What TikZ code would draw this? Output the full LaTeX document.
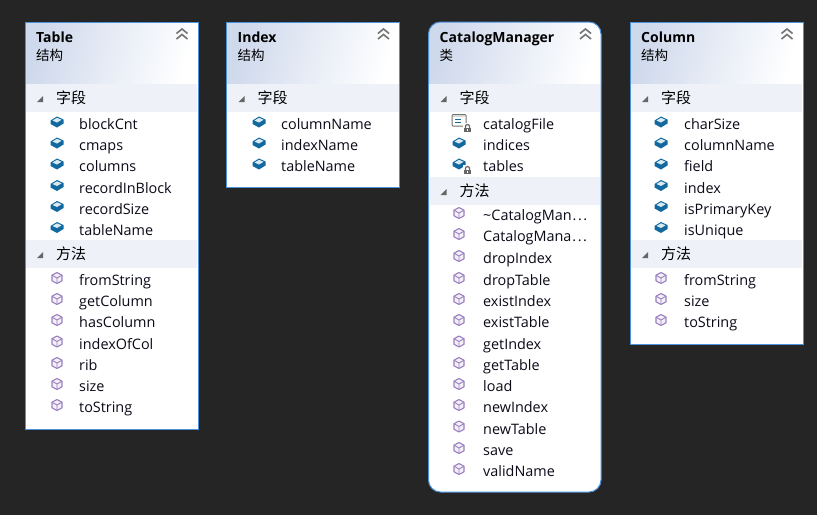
\documentclass[tikz,border=0pt]{standalone}
\usepackage{fontspec}
\setmainfont{Open Sans}
\newfontfamily\cjk{Noto Sans CJK SC}
\definecolor{pagecolor}{HTML}{252526}
\definecolor{framecolor}{HTML}{4A92DC}
\definecolor{barcolor}{HTML}{EEF1F8}
\definecolor{headcolor}{HTML}{CFD9EC}
\definecolor{fieldcolor}{HTML}{11699F}
\definecolor{methodcolor}{HTML}{9B7FC0}
\definecolor{textcolor}{HTML}{0A0A18}
\newcommand{\threedots}{\kern1pt.\kern1.5pt.\kern1.5pt.}
\tikzset{
  x=1pt,y=-1pt,
  titledecorate/.style={anchor=base west,inner sep=0pt,font=\fontsize{14}{16}\selectfont\bfseries,text=black},
  subdecorate/.style={anchor=base west,inner sep=0pt,font=\fontsize{13.5}{14}\cjk,text=black},
  bardecorate/.style={anchor=base west,inner sep=0pt,font=\fontsize{15}{16}\cjk,text=black},
  rowdecorate/.style={anchor=base west,inner sep=0pt,font=\fontsize{14.4}{16}\selectfont,text=textcolor},
  fieldicon/.pic={
    \fill[fieldcolor] (-6.5,-1.5) -- (0,-5.5) -- (6.5,-2.5) -- (6.5,1.5) -- (0,5.5) -- (-6.5,2) -- cycle;
    \fill[white!85!fieldcolor] (-4.5,-1.5) -- (0,-4.2) -- (4.5,-2.2) -- (0,0.5) -- cycle;
  },
  methodicon/.pic={
    \draw[methodcolor,line width=1.1pt,fill=methodcolor!12,line join=round] (-5,-2.8) -- (0,-5.5) -- (5,-2.8) -- (5,2.8) -- (0,5.5) -- (-5,2.8) -- cycle;
    \draw[methodcolor,line width=0.9pt] (-5,-2.8) -- (0,0) -- (5,-2.8) (0,0) -- (0,5.5);
  },
  lockicon/.pic={
    \fill[white] (-4.5,-5) rectangle (4.5,5);
    \draw[black!60,line width=1.2pt] (-2.1,0) -- (-2.1,-1.4) arc[start angle=180,end angle=360,radius=2.1] -- (2.1,0);
    \fill[black!60] (-3.6,0) rectangle (3.6,4);
    \fill[white] (-0.8,1.4) rectangle (0.8,2.6);
  },
  fileicon/.pic={
    \draw[black!55,line width=1pt,fill=white,rounded corners=1pt] (-7,-6.5) rectangle (7,5);
    \fill[black!15] (-6.3,-5.8) rectangle (6.3,-3.8);
    \draw[fieldcolor,line width=1pt] (-4,-1.5) -- (2,-1.5) (-4,1) -- (2,1);
  },
  chevronicon/.pic={
    \draw[black!55,line width=1.6pt] (-5.5,-1.5) -- (0,-6) -- (5.5,-1.5) (-5.5,4) -- (0,-0.5) -- (5.5,4);
  },
  expandicon/.pic={
    \fill[black!60] (3,-3) -- (3,3) -- (-3,3) -- cycle;
  }
}
\begin{document}
\begin{tikzpicture}
\useasboundingbox[fill=pagecolor] (0,0) rectangle (817,515);
%% boxes, headers and titles
\foreach \boxname/\xa/\xb/\yb/\rad/\titletext/\subtext in {table/25/198/429/0/Table/结构,
  index/226.5/399.5/187/0/Index/结构, catalog/428.5/601/492/12/CatalogManager/类,
  column/630/803/344/0/Column/结构} {
  \fill[white,rounded corners=\rad] (\xa,22) rectangle (\xb,\yb);
  \shade[left color=headcolor,right color=white,shading angle=75]
    (\xa,84) [rounded corners=\rad] -- (\xa,22) -- (\xb,22) [sharp corners] -- (\xb,84) -- cycle;
  \draw[framecolor,line width=1pt,rounded corners=\rad] (\xa,22) rectangle (\xb,\yb);
  \node (\boxname title) at (\xa+11,42) [titledecorate] {\titletext};
  \node (\boxname sub) at (\xa+11,60) [subdecorate] {\subtext};
  \pic at (\xa+157,35) {chevronicon};
}
%% section bars
\foreach \barname/\xa/\xb/\y/\bartext in {tablefield/25/198/98/字段, tablemethod/25/198/254/方法,
  indexfield/226.5/399.5/98/字段, catalogfield/428.5/601/98/字段, catalogmethod/428.5/601/191/方法,
  columnfield/630/803/98/字段, columnmethod/630/803/254/方法} {
  \fill[barcolor] (\xa+0.6,\y-14) rectangle (\xb-0.6,\y+14);
  \node (\barname) at (\xa+31,\y+5) [bardecorate] {\bartext};
  \pic at (\xa+15,\y+1) {expandicon};
}
%% members of Table
\foreach \rowname/\y in {blockCnt/124, cmaps/145, columns/166, recordInBlock/187.5, recordSize/208.5, tableName/229.5} {
  \pic at (57,\y-2) {fieldicon};
  \node (table\rowname) at (79,\y+5.5) [rowdecorate] {\rowname};
}
\foreach \rowname/\y in {fromString/280, getColumn/301, hasColumn/322, indexOfCol/343.5, rib/365, size/386, toString/407} {
  \pic at (57,\y-2) {methodicon};
  \node (table\rowname) at (79,\y+5.5) [rowdecorate] {\rowname};
}
%% members of Index
\foreach \rowname/\y in {columnName/124, indexName/145, tableName/166} {
  \pic at (259,\y-2) {fieldicon};
  \node (index\rowname) at (281,\y+5.5) [rowdecorate] {\rowname};
}
%% members of CatalogManager
\pic at (459,121) {fileicon};
\pic at (467.5,128) {lockicon};
\node (catalogfile) at (483,129.5) [rowdecorate] {catalogFile};
\foreach \rowname/\y in {indices/145, tables/166} {
  \pic at (459,\y-2) {fieldicon};
  \node (catalog\rowname) at (483,\y+5.5) [rowdecorate] {\rowname};
}
\pic at (467.5,170) {lockicon};
\foreach \rowname/\rowtext/\y in {dtor/\textasciitilde CatalogMan\threedots/215, ctor/CatalogMana\threedots/236,
  dropIndex/dropIndex/258, dropTable/dropTable/280, existIndex/existIndex/301, existTable/existTable/322,
  getIndex/getIndex/343.5, getTable/getTable/365, load/load/386, newIndex/newIndex/407,
  newTable/newTable/428.5, save/save/450, validName/validName/471} {
  \pic at (459,\y-2) {methodicon};
  \node (catalog\rowname) at (483,\y+5.5) [rowdecorate] {\rowtext};
}
%% members of Column
\foreach \rowname/\y in {charSize/124, columnName/145, field/166, index/187.5, isPrimaryKey/208.5, isUnique/229.5} {
  \pic at (661,\y-2) {fieldicon};
  \node (column\rowname) at (684,\y+5.5) [rowdecorate] {\rowname};
}
\foreach \rowname/\y in {fromString/280, size/301, toString/322} {
  \pic at (661,\y-2) {methodicon};
  \node (column\rowname) at (684,\y+5.5) [rowdecorate] {\rowname};
}
\end{tikzpicture}
\end{document}
